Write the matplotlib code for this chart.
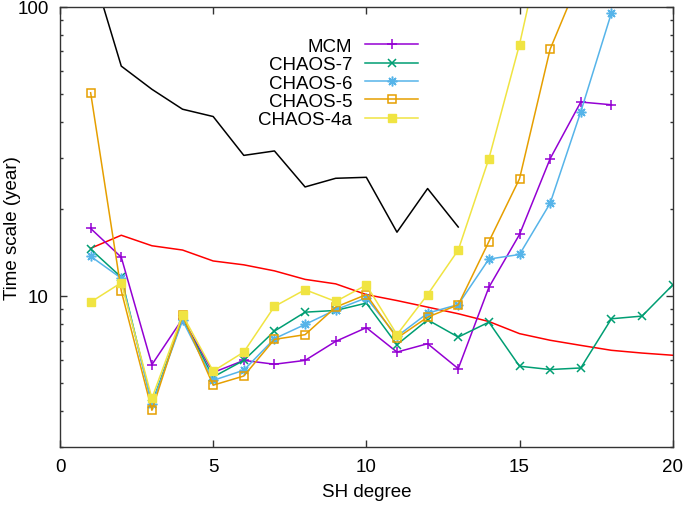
import matplotlib.pyplot as plt
from matplotlib.ticker import LogLocator, NullFormatter, FixedLocator

plt.rcParams['font.family'] = ['Liberation Sans', 'DejaVu Sans']
plt.rcParams['font.size'] = 13.5

# SH degrees
deg = list(range(1, 21))

# Time scales (year) per SH degree
mcm = [17.1, 13.6, 5.78, 8.33, 5.43, 5.98, 5.80, 5.98, 6.96, 7.76,
       6.39, 6.83, 5.60, 10.7, 16.3, 29.8, 46.8, 45.8]
chaos7 = [14.5, 11.6, 4.24, 8.33, 5.24, 5.98, 7.55, 8.78, 8.90, 9.44,
          6.78, 8.26, 7.20, 8.11, 5.71, 5.56, 5.63, 8.33, 8.51, 10.9]
chaos6 = [13.7, 11.5, 4.21, 8.22, 5.10, 5.53, 7.11, 7.96, 8.95, 9.84,
          7.24, 8.71, 9.33, 13.4, 13.9, 20.9, 43.3, 95.1]
chaos5 = [50.4, 10.4, 4.02, 8.55, 4.91, 5.28, 7.07, 7.34, 9.14, 10.1,
          7.14, 8.44, 9.31, 15.4, 25.4, 71.3, 128]
chaos4a = [9.51, 11.1, 4.42, 8.60, 5.49, 6.39, 9.19, 10.5, 9.56, 10.9,
           7.34, 10.1, 14.4, 29.8, 74.0, 220]
black_curve = [140, 62.3, 51.8, 44.2, 41.7, 30.6, 31.7, 23.8, 25.5, 25.7,
               16.6, 23.5, 17.3]
red_curve = [14.6, 16.2, 14.9, 14.4, 13.2, 12.8, 12.2, 11.4, 11.0, 10.1,
             9.63, 9.14, 8.67, 8.15, 7.40, 7.02, 6.74, 6.48, 6.34, 6.23]

fig = plt.figure(figsize=(6.85, 5.06), dpi=100)
ax = fig.add_axes([0.0876, 0.1146, 0.8944, 0.8702])

lw = 1.1
ax.plot(deg[:len(black_curve)], black_curve, color='black', lw=lw)
ax.plot(deg[:len(red_curve)], red_curve, color='red', lw=lw)
ax.plot(deg[:len(mcm)], mcm, color='#9400d3', lw=lw, marker='+', ms=7,
        mew=1.1, label='MCM')
ax.plot(deg[:len(chaos7)], chaos7, color='#009e73', lw=lw, marker='x',
        ms=6, mew=1.1, label='CHAOS-7')
ax.plot(deg[:len(chaos6)], chaos6, color='#56b4e9', lw=lw, marker=(8, 2, 0),
        ms=7, mew=1.1, label='CHAOS-6')
ax.plot(deg[:len(chaos5)], chaos5, color='#e69f00', lw=lw, marker='s',
        ms=6, mfc='none', mew=1.1, label='CHAOS-5')
ax.plot(deg[:len(chaos4a)], chaos4a, color='#f0e442', lw=lw, marker='s',
        ms=5.5, label='CHAOS-4a')

ax.set_yscale('log')
ax.set_xlim(0, 20)
ax.set_ylim(3, 100)
ax.xaxis.set_major_locator(FixedLocator([0, 5, 10, 15, 20]))
ax.yaxis.set_major_locator(FixedLocator([10, 100]))
ax.yaxis.set_major_formatter(plt.FuncFormatter(lambda v, p: '%d' % v))
ax.yaxis.set_minor_locator(LogLocator(base=10, subs=range(2, 10)))
ax.yaxis.set_minor_formatter(NullFormatter())
ax.tick_params(which='both', direction='in', top=True, right=True,
               labelsize=13.5, color='#333333')
ax.tick_params(which='major', length=5, width=1, pad=8)
ax.tick_params(which='minor', length=2.5, width=1)
for s in ax.spines.values():
    s.set_color('#333333')
    s.set_linewidth(1)

ax.set_xlabel('SH degree', fontsize=13.5, va='center')
ax.xaxis.set_label_coords(0.5, -0.102)
ax.set_ylabel('Time scale (year)', fontsize=13.5, va='center')
ax.yaxis.set_label_coords(-0.078, 0.5)

ax.legend(loc='upper right', bbox_to_anchor=(0.584, 0.93), frameon=False,
          markerfirst=False, handlelength=2.8, handletextpad=0.7,
          labelspacing=0.07, fontsize=13.5, borderpad=0, borderaxespad=0)

fig.savefig('out.png', dpi=100)
